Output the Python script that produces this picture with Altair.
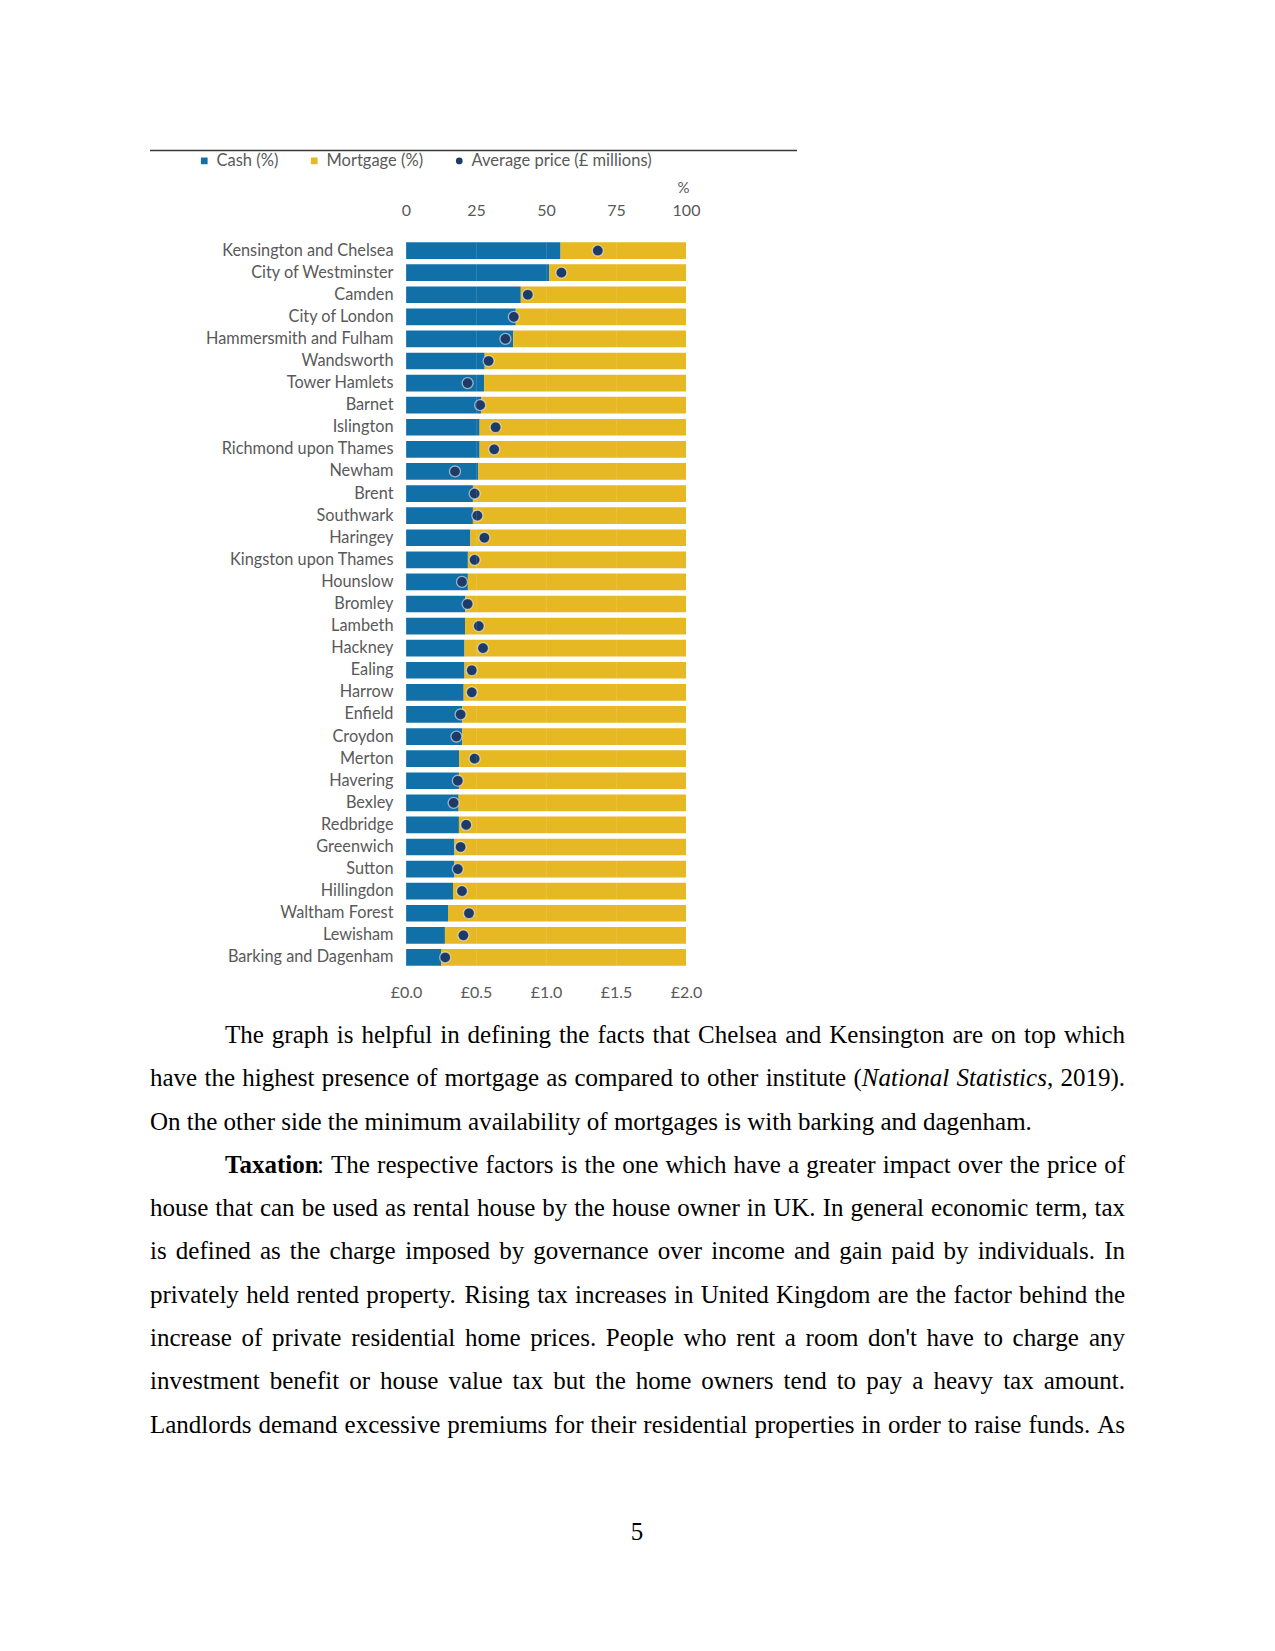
import altair as alt
import pandas as pd

# ---------------- data ----------------
boroughs = [
    "Kensington and Chelsea", "City of Westminster", "Camden", "City of London",
    "Hammersmith and Fulham", "Wandsworth", "Tower Hamlets", "Barnet", "Islington",
    "Richmond upon Thames", "Newham", "Brent", "Southwark", "Haringey",
    "Kingston upon Thames", "Hounslow", "Bromley", "Lambeth", "Hackney", "Ealing",
    "Harrow", "Enfield", "Croydon", "Merton", "Havering", "Bexley", "Redbridge",
    "Greenwich", "Sutton", "Hillingdon", "Waltham Forest", "Lewisham",
    "Barking and Dagenham",
]
cash_pct = [55.2, 51.2, 41.0, 39.2, 38.3, 28.1, 27.9, 26.9, 26.3, 26.3, 25.8, 23.9,
            23.9, 23.0, 22.1, 22.1, 21.2, 21.1, 20.9, 20.9, 20.6, 20.1, 20.1, 19.0,
            18.9, 18.8, 18.9, 17.3, 17.3, 16.8, 15.0, 13.9, 12.5]
avg_price = [1.37, 1.11, 0.87, 0.77, 0.71, 0.59, 0.44, 0.53, 0.64, 0.63, 0.35, 0.49,
             0.51, 0.56, 0.49, 0.40, 0.44, 0.52, 0.55, 0.47, 0.47, 0.39, 0.36, 0.49,
             0.37, 0.34, 0.43, 0.39, 0.37, 0.40, 0.45, 0.41, 0.28]
series_names = ["Cash (%)", "Mortgage (%)", "Average price (£ millions)"]
pct_ticks = [0, 25, 50, 75, 100]
price_ticks = [0.0, 0.5, 1.0, 1.5, 2.0]

# body text: each line is a list of (text, style) segments
body_lines = [
    [("The graph is helpful in defining the facts that Chelsea and Kensington are on top which", "normal")],
    [("have the highest presence of mortgage as compared to other institute (", "normal"),
     ("National Statistics", "italic"), (", 2019).", "normal")],
    [("On the other side the minimum availability of mortgages is with barking and dagenham.", "normal")],
    [("Taxation", "bold"), (": The respective factors is the one which have a greater impact over the price of", "normal")],
    [("house that can be used as rental house by the house owner in UK. In general economic term, tax", "normal")],
    [("is defined as the charge imposed by governance over income and gain paid by individuals. In", "normal")],
    [("privately held rented property. Rising tax increases in United Kingdom are the factor behind the", "normal")],
    [("increase of private residential home prices. People who rent a room don't have to charge any", "normal")],
    [("investment benefit or house value tax but the home owners tend to pay a heavy tax amount.", "normal")],
    [("Landlords demand excessive premiums for their residential properties in order to raise funds. As", "normal")],
]
line_indented = [True, False, False, True, False, False, False, False, False, False]
line_justified = [True, True, False, True, True, True, True, True, True, True]
page_number = ["5"]

# ---------------- styles ----------------
BLUE = "#1270a8"
YELLOW = "#e6b823"
NAVY = "#1e3b68"
GREY = "#595959"
LABEL_FONT = "Lato"
BODY_FONT = "Liberation Serif"
BODY_SIZE = 25
TEXT_LEFT, TEXT_RIGHT, INDENT = 150, 1125, 75

# Times / Liberation Serif advance widths (1/1000 em)
W_REG = {" ": 250, "!": 333, "'": 180, "(": 333, ")": 333, ",": 250, "-": 333, ".": 250,
         ":": 278, ";": 278, "?": 444,
         "A": 722, "B": 667, "C": 667, "D": 722, "E": 611, "F": 556, "G": 722, "H": 722,
         "I": 333, "J": 389, "K": 722, "L": 611, "M": 889, "N": 722, "O": 722, "P": 556,
         "Q": 722, "R": 667, "S": 556, "T": 611, "U": 722, "V": 722, "W": 944, "X": 722,
         "Y": 722, "Z": 611,
         "a": 444, "b": 500, "c": 444, "d": 500, "e": 444, "f": 333, "g": 500, "h": 500,
         "i": 278, "j": 278, "k": 500, "l": 278, "m": 778, "n": 500, "o": 500, "p": 500,
         "q": 500, "r": 333, "s": 389, "t": 278, "u": 500, "v": 500, "w": 722, "x": 500,
         "y": 500, "z": 444}
W_BOLD = {"T": 640, "a": 480, "x": 480, "t": 320, "i": 267, "o": 480, "n": 534}
W_ITAL = {"N": 667, "a": 500, "t": 278, "i": 278, "o": 500, "n": 500, "l": 278,
          "S": 500, "c": 444, "s": 389}


def text_width(s, style):
    extra = W_BOLD if style == "bold" else (W_ITAL if style == "italic" else {})
    return sum(extra.get(ch, W_REG.get(ch, 500)) for ch in s) * BODY_SIZE / 1000.0


# lay out words (justified lines)
word_rows = []
for row, (segs, ind, just) in enumerate(zip(body_lines, line_indented, line_justified)):
    tokens = []  # (word, style, space_before)
    for si, (seg, style) in enumerate(segs):
        parts = seg.split(" ")
        lead_space = seg.startswith(" ")
        first = True
        for p in parts:
            if p == "":
                continue
            if first:
                sb = lead_space if (si > 0 or tokens) else False
                first = False
            else:
                sb = True
            tokens.append((p, style, sb))
    n_spaces = sum(1 for t in tokens[1:] if t[2])
    natural = sum(text_width(w, s) for w, s, _ in tokens) + n_spaces * text_width(" ", "normal")
    x0 = TEXT_LEFT + (INDENT if ind else 0)
    avail = TEXT_RIGHT - x0
    space_w = text_width(" ", "normal")
    if just and n_spaces:
        space_w += (avail - natural) / n_spaces
    x = x0
    for i, (w, s, sb) in enumerate(tokens):
        if i > 0 and sb:
            x += space_w
        word_rows.append({"row": row, "text": w, "style": s, "px": x})
        x += text_width(w, s)
words_df = pd.DataFrame(word_rows)

bar_rows = []
for b, c in zip(boroughs, cash_pct):
    bar_rows.append({"borough": b, "series": series_names[0], "value": c, "order": 0})
    bar_rows.append({"borough": b, "series": series_names[1], "value": 100 - c, "order": 1})
bar_df = pd.DataFrame(bar_rows)
pt_df = pd.DataFrame({"borough": boroughs, "price": avg_price,
                      "series": [series_names[2]] * len(boroughs)})

color_scale = alt.Scale(domain=series_names, range=[BLUE, YELLOW, NAVY])
legend = alt.Legend(
    title=None, orient="none", direction="horizontal", legendX=-210, legendY=-87,
    columnPadding=27, symbolSize=45, labelFont=LABEL_FONT, labelFontSize=16.5,
    labelColor=GREY, padding=0, labelOffset=4, symbolStrokeWidth=0, labelLimit=400,
)

y_enc = alt.Y(
    "borough:N", sort=boroughs,
    scale=alt.Scale(paddingInner=0.245, paddingOuter=0.1225),
    axis=alt.Axis(title=None, ticks=False, domain=False, labelPadding=13,
                  labelFont=LABEL_FONT, labelFontSize=16.3, labelColor=GREY,
                  labelLimit=400),
)

bars = alt.Chart(bar_df).mark_bar().encode(
    y=y_enc,
    x=alt.X(
        "value:Q", stack="zero", scale=alt.Scale(domain=[0, 100], nice=False),
        axis=alt.Axis(orient="top", values=pct_ticks, ticks=False, domain=False,
                      labelFlush=False, labelPadding=21, labelFont=LABEL_FONT,
                      labelFontSize=16, labelColor=GREY, grid=True, gridColor="white",
                      gridOpacity=0.12, zindex=1, title="%", titleX=277, titleY=-52,
                      titleAngle=0, titleFont=LABEL_FONT, titleFontSize=15,
                      titleFontWeight="normal", titleColor=GREY, titleAlign="center",
                      titleBaseline="middle"),
    ),
    color=alt.Color("series:N", scale=color_scale, legend=legend),
    order=alt.Order("order:Q"),
)

points = alt.Chart(pt_df).mark_point(
    filled=True, size=120, stroke="white", strokeOpacity=0.55, strokeWidth=1.3, opacity=1
).encode(
    y=alt.Y("borough:N", sort=boroughs),
    x=alt.X(
        "price:Q", scale=alt.Scale(domain=[0, 2], nice=False),
        axis=alt.Axis(orient="bottom", values=price_ticks, ticks=False, domain=False,
                      labelFlush=False, labelPadding=16, labelFont=LABEL_FONT,
                      labelFontSize=16, labelColor=GREY,
                      labelExpr="'£' + format(datum.value, '.1f')", title=None),
    ),
    color=alt.Color("series:N", scale=color_scale, legend=legend),
    shape=alt.Shape("series:N",
                    scale=alt.Scale(domain=series_names, range=["square", "square", "circle"]),
                    legend=legend),
)

inner = alt.layer(bars, points).resolve_scale(x="independent")

rule = alt.Chart(alt.Data(values=[{"k": 1}])).mark_rule(
    color="#3a3a3a", strokeWidth=1.3
).encode(x=alt.value(-256), x2=alt.value(391), y=alt.value(-89))

row_scale = alt.Scale(domain=[0, 9], range=[795.5, 1185])
page_x_scale = alt.Scale(domain=[0, 1275], range=[-406, 869])


def words_layer(style):
    weight = "bold" if style == "bold" else "normal"
    fstyle = "italic" if style == "italic" else "normal"
    return alt.Chart(words_df[words_df["style"] == style]).mark_text(
        align="left", baseline="middle", font=BODY_FONT, fontSize=BODY_SIZE,
        fontWeight=weight, fontStyle=fstyle, color="black",
    ).encode(
        x=alt.X("px:Q", scale=page_x_scale, axis=None),
        y=alt.Y("row:Q", scale=row_scale, axis=None),
        text="text:N",
    )


pn = alt.Chart(pd.DataFrame({"text": page_number})).mark_text(
    align="center", baseline="middle", font=BODY_FONT, fontSize=BODY_SIZE, color="black"
).encode(x=alt.value(231), y=alt.value(1292), text="text:N")

chart = alt.layer(
    inner, rule, words_layer("normal"), words_layer("italic"), words_layer("bold"), pn
).resolve_scale(
    y="independent", x="independent"
).properties(
    width=280, height=729,
    padding={"left": 398, "top": 231.5, "right": 581, "bottom": 660},
    autosize=alt.AutoSizeParams(type="none"),
    background="white",
).configure_view(stroke=None)

chart.save("out.html", embed_options={"renderer": "svg", "actions": False})
